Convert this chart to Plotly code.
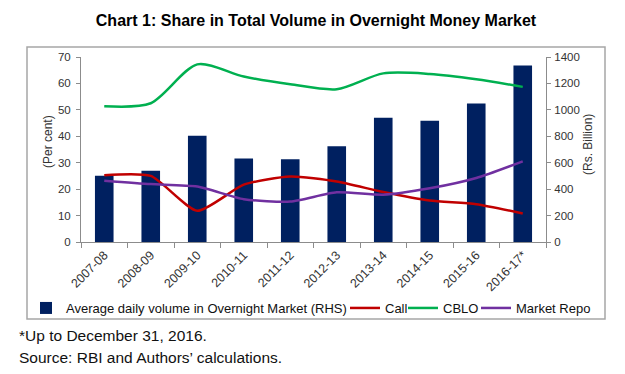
import plotly.graph_objects as go

categories = ["2007-08", "2008-09", "2009-10", "2010-11", "2011-12",
              "2012-13", "2013-14", "2014-15", "2015-16", "2016-17*"]
volume_rhs = [502, 540, 804, 631, 626, 725, 941, 918, 1049, 1336]
call_share = [25.3, 25.0, 11.8, 21.7, 24.8, 22.9, 18.9, 15.7, 14.3, 10.8]
cblo_share = [51.4, 52.5, 67.2, 62.6, 59.7, 57.8, 63.8, 63.6, 61.6, 58.7]
repo_share = [23.2, 21.9, 21.0, 16.2, 15.3, 18.8, 17.9, 20.3, 24.2, 30.5]
left_ticks = [0, 10, 20, 30, 40, 50, 60, 70]
right_ticks = [0, 200, 400, 600, 800, 1000, 1200, 1400]

# The page body has an 8px default margin; work in page pixels and subtract it.
OFF = 8
W, H = 625 - OFF, 374 - OFF
PL, PR, PT, PB = 81, 546, 57, 242  # plot area in page pixels
L, R, T, B = PL - OFF, PR - OFF, PT - OFF, PB - OFF


def px_x(p):  # page px -> paper x
    return (p - PL) / (PR - PL)


def px_y(p):  # page px -> paper y
    return (PB - p) / (PB - PT)


def cx(p):  # page px -> container x
    return (p - OFF) / W


def cy(p):  # page px -> container y
    return 1 - (p - OFF) / H


FONT = "Liberation Sans, Arial, sans-serif"
LEG_FONT = dict(family=FONT, size=13, color="#111111")

fig = go.Figure()
fig.add_trace(go.Bar(x=categories, y=volume_rhs, yaxis="y", legend="legend",
                     name="Average daily volume in Overnight Market (RHS)",
                     marker=dict(color="#002060", line=dict(width=0))))
fig.add_trace(go.Scatter(x=categories, y=call_share, yaxis="y2", mode="lines",
                         legend="legend2", name="Call",
                         line=dict(color="#c00000", width=2.5, shape="spline", smoothing=0.6)))
fig.add_trace(go.Scatter(x=categories, y=cblo_share, yaxis="y2", mode="lines",
                         legend="legend3", name="CBLO",
                         line=dict(color="#00b050", width=2.5, shape="spline", smoothing=0.8)))
fig.add_trace(go.Scatter(x=categories, y=repo_share, yaxis="y2", mode="lines",
                         legend="legend4", name="Market Repo",
                         line=dict(color="#7030a0", width=2.5, shape="spline", smoothing=0.6)))

axis_common = dict(showgrid=False, zeroline=False, showline=True,
                   linecolor="#8c8c8c", linewidth=1, ticks="outside",
                   ticklen=4, tickcolor="#8c8c8c",
                   tickfont=dict(family=FONT, size=11.5, color="#333333"))


def leg(x_page):
    return dict(orientation="h", xref="container", yref="container",
                x=cx(x_page), xanchor="left", y=cy(308), yanchor="middle",
                font=LEG_FONT, bgcolor="rgba(0,0,0,0)", itemwidth=30)


fig.update_layout(
    width=W, height=H,
    margin=dict(l=L, r=W - R, t=T, b=H - B, pad=0, autoexpand=False),
    paper_bgcolor="white", plot_bgcolor="white",
    bargap=0.6,
    title=dict(text="<b>Chart 1: Share in Total Volume in Overnight Money Market</b>",
               xref="container", yref="container",
               x=cx(316), xanchor="center", y=cy(20), yanchor="middle",
               font=dict(family=FONT, size=16, color="#000000")),
    xaxis=dict(type="category", showgrid=False, zeroline=False, showline=True,
               linecolor="#8c8c8c", ticks="outside", ticklen=5, tickcolor="#8c8c8c",
               tickson="boundaries", tickangle=-45,
               tickfont=dict(family=FONT, size=12.5, color="#333333")),
    yaxis=dict(side="right", range=[0, 1400], tickvals=right_ticks, ticklabelstandoff=1,
               **axis_common),
    yaxis2=dict(side="left", overlaying="y", range=[0, 70], tickvals=left_ticks,
                ticklabelstandoff=3, **axis_common),
    showlegend=True,
    legend=leg(26),
    legend2=leg(345),
    legend3=leg(403),
    legend4=leg(476),
)

fig.add_annotation(text="(Per cent)", x=px_x(39), y=px_y(142), xref="paper", yref="paper",
                   textangle=-90, showarrow=False,
                   font=dict(family=FONT, size=12, color="#333333"))
fig.add_annotation(text="(Rs. Billion)", x=px_x(597), y=px_y(145), xref="paper", yref="paper",
                   textangle=-90, showarrow=False,
                   font=dict(family=FONT, size=12, color="#333333"))
fig.add_annotation(text="*Up to December 31, 2016.", x=px_x(17), y=px_y(335),
                   xref="paper", yref="paper", xanchor="left", yanchor="middle",
                   showarrow=False, font=dict(family=FONT, size=15.5, color="#111111"))
fig.add_annotation(text="Source: RBI and Authors\u2019 calculations.", x=px_x(17), y=px_y(357),
                   xref="paper", yref="paper", xanchor="left", yanchor="middle",
                   showarrow=False, font=dict(family=FONT, size=15.5, color="#111111"))
# Chart frame
fig.add_shape(type="rect", xref="paper", yref="paper",
              x0=px_x(27), x1=px_x(605), y0=px_y(319), y1=px_y(47),
              line=dict(color="#a6a6a6", width=1.5), fillcolor="rgba(0,0,0,0)", layer="below")

fig.write_html("out.html")
